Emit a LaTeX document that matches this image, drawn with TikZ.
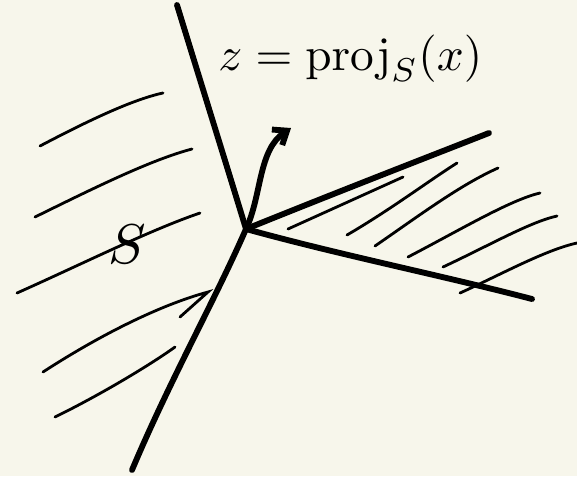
\documentclass[tikz,border=0pt]{standalone}
\usetikzlibrary{arrows.meta}
\definecolor{paper}{RGB}{247,246,235}
\begin{document}
\begin{tikzpicture}[x=0.75pt,y=-0.75pt,
  bold/.style={line width=4.4pt,line cap=round,line join=round},
  hatch/.style={line width=2.1pt,line cap=round},
  lbl/.style={inner sep=0pt}]
\fill[paper] (0,0) rectangle (577,476);
\useasboundingbox (0,0) rectangle (577,476);
\coordinate (v) at (246,229);
% left boundary line
\draw[bold] (177,5) .. controls (200,80) and (225,160) .. (v);
\draw[bold] (v) .. controls (215,300) and (170,380) .. (132,470);
% right wedge
\draw[bold] (v) .. controls (330,195) and (420,160) .. (489,133);
\draw[bold] (v) .. controls (340,255) and (440,275) .. (532,299);
% arrow
\coordinate (tip) at (291,128);
\draw[bold,-{Straight Barb[length=9pt,width=14pt]}] (v) .. controls (262,195) and (258,150) .. (tip);
% left hatching
\draw[hatch] (40,146) .. controls (80,125) and (130,100) .. (163,93);
\draw[hatch] (35,217) .. controls (90,190) and (150,160) .. (192,149);
\draw[hatch] (17,293) .. controls (80,265) and (150,230) .. (200,213);
\draw[hatch] (43,372) .. controls (100,335) and (160,305) .. (208,292) -- (180,317);
\draw[hatch] (55,417) .. controls (100,395) and (150,365) .. (175,347);
% right hatching
\draw[hatch] (288,229) -- (403,177);
\draw[hatch] (347,235) .. controls (390,210) and (430,180) .. (457,163);
\draw[hatch] (375,246) .. controls (420,215) and (460,185) .. (498,168);
\draw[hatch] (408,257) .. controls (460,230) and (510,200) .. (540,193);
\draw[hatch] (443,267) .. controls (490,245) and (530,222) .. (557,216);
\draw[hatch] (460,293) .. controls (500,275) and (545,250) .. (577,243);
% labels
\node[lbl,anchor=base west] (eq) at (218,70) {\scalebox{3.55}{$z=\mathrm{proj}_{S}(x)$}};
\node[lbl] (S) at (127,244) {\scalebox{4.2}{$S$}};
\end{tikzpicture}
\end{document}
